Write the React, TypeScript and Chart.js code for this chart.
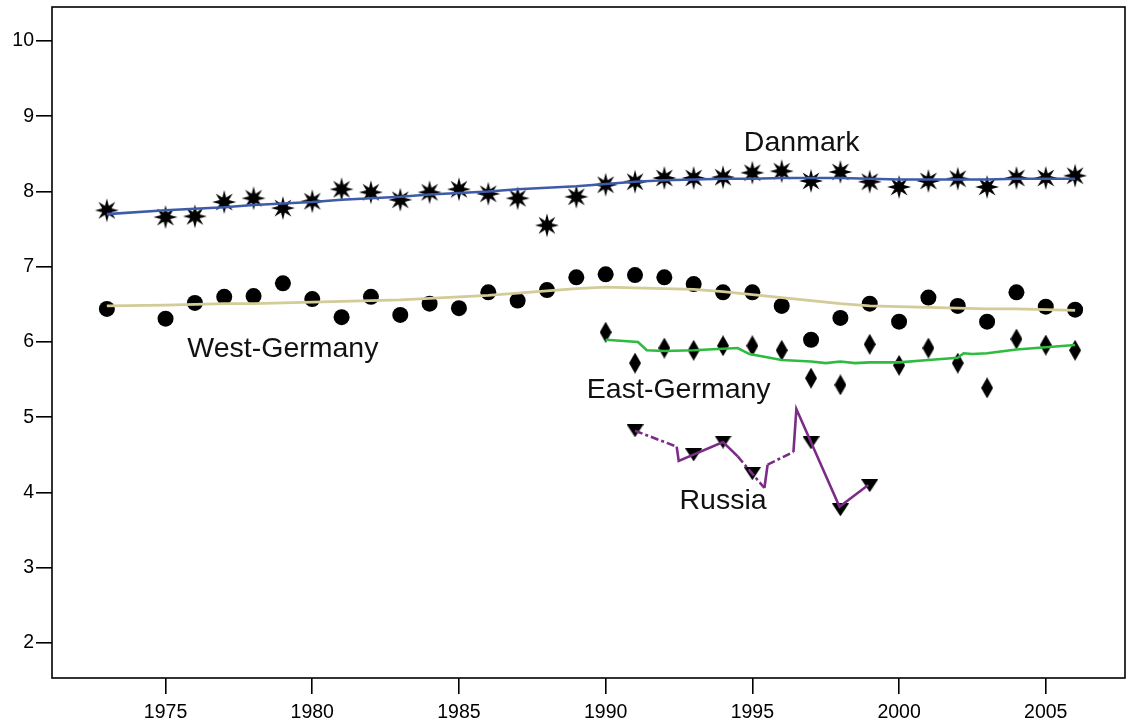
import React, { useEffect, useRef } from "react";
import { Chart, registerables } from "chart.js";

Chart.register(...registerables);

// ---- Data ----
const mainYears = [
  1973, 1975, 1976, 1977, 1978, 1979, 1980, 1981, 1982, 1983, 1984, 1985, 1986, 1987, 1988, 1989,
  1990, 1991, 1992, 1993, 1994, 1995, 1996, 1997, 1998, 1999, 2000, 2001, 2002, 2003, 2004, 2005, 2006,
];
const danmarkValues = [
  7.75, 7.66, 7.67, 7.86, 7.91, 7.78, 7.87, 8.03, 7.99, 7.89, 7.99, 8.03, 7.97, 7.91, 7.55, 7.93,
  8.09, 8.13, 8.18, 8.18, 8.19, 8.25, 8.27, 8.14, 8.26, 8.13, 8.06, 8.14, 8.17, 8.06, 8.18, 8.18, 8.21,
];
const danmarkTrend = [
  7.70, 7.75, 7.77, 7.79, 7.82, 7.84, 7.86, 7.89, 7.91, 7.93, 7.96, 7.98, 8.00, 8.03, 8.05, 8.07,
  8.10, 8.13, 8.15, 8.16, 8.17, 8.17, 8.18, 8.18, 8.18, 8.17, 8.16, 8.16, 8.16, 8.16, 8.17, 8.17, 8.17,
];
const westGermanyValues = [
  6.44, 6.31, 6.52, 6.60, 6.61, 6.78, 6.57, 6.33, 6.60, 6.36, 6.51, 6.45, 6.66, 6.55, 6.69, 6.86,
  6.90, 6.89, 6.86, 6.77, 6.66, 6.66, 6.48, 6.03, 6.32, 6.51, 6.27, 6.59, 6.48, 6.27, 6.66, 6.47, 6.43,
];
const westGermanyTrend = [
  6.48, 6.49, 6.50, 6.51, 6.51, 6.52, 6.53, 6.54, 6.55, 6.56, 6.58, 6.60, 6.62, 6.65, 6.68, 6.71,
  6.73, 6.72, 6.71, 6.70, 6.67, 6.63, 6.59, 6.55, 6.51, 6.48, 6.47, 6.46, 6.45, 6.44, 6.44, 6.43, 6.42,
];
const eastGermanyYears = [
  1990, 1991, 1992, 1993, 1994, 1995, 1996, 1997, 1998, 1999, 2000, 2001, 2002, 2003, 2004, 2005, 2006,
];
const eastGermanyValues = [
  6.13, 5.72, 5.92, 5.89, 5.95, 5.95, 5.89, 5.52, 5.43, 5.97, 5.69, 5.92, 5.72, 5.39, 6.04, 5.96, 5.89,
];
const eastGermanyTrendX = [
  1990, 1991.1, 1991.4, 1992, 1993, 1994, 1994.5, 1994.9, 1996, 1997, 1997.5, 1998, 1998.5, 1999,
  2000, 2001, 2002, 2002.2, 2002.5, 2003, 2004, 2005, 2006,
];
const eastGermanyTrendY = [
  6.03, 6.00, 5.89, 5.88, 5.89, 5.91, 5.92, 5.84, 5.76, 5.74, 5.72, 5.74, 5.72, 5.73,
  5.73, 5.76, 5.79, 5.85, 5.84, 5.85, 5.90, 5.93, 5.96,
];
const russiaYears = [1991, 1993, 1994, 1995, 1997, 1998, 1999];
const russiaValues = [4.82, 4.50, 4.67, 4.25, 4.66, 3.77, 4.09];
const russiaLineX = [1991.0, 1992.42, 1992.49, 1994.0, 1994.5, 1995.41, 1995.52, 1996.4, 1996.5, 1997.97, 1998.95];
const russiaLineY = [4.82, 4.61, 4.42, 4.67, 4.48, 4.06, 4.37, 4.54, 5.11, 3.81, 4.10];
const russiaDashedSegments = [0, 4, 6];

const xTickValues = [1975, 1980, 1985, 1990, 1995, 2000, 2005];
const yTickValues = [2, 3, 4, 5, 6, 7, 8, 9, 10];

const labelTexts = ["Danmark", "West-Germany", "East-Germany", "Russia"];
const labelYears = [1996.68, 1979.0, 1992.49, 1994.0];
const labelValues = [8.68, 5.93, 5.39, 3.91];

const FONT = "'Liberation Sans', Arial, Helvetica, sans-serif";

function pts(xs: number[], ys: number[]) {
  return xs.map((x, i) => ({ x, y: ys[i] }));
}

function makeStar(): HTMLCanvasElement {
  const c = document.createElement("canvas");
  c.width = 26;
  c.height = 26;
  const g = c.getContext("2d")!;
  g.fillStyle = "#000";
  g.beginPath();
  for (let i = 0; i < 16; i++) {
    const r = i % 2 === 0 ? 12 : 5;
    const a = -Math.PI / 2 + (i * Math.PI) / 8;
    const x = 13 + r * Math.cos(a);
    const y = 13 + r * Math.sin(a);
    if (i === 0) g.moveTo(x, y);
    else g.lineTo(x, y);
  }
  g.closePath();
  g.fill();
  return c;
}

function makeDiamond(): HTMLCanvasElement {
  const c = document.createElement("canvas");
  c.width = 12;
  c.height = 21;
  const g = c.getContext("2d")!;
  g.fillStyle = "#000";
  g.beginPath();
  g.moveTo(6, 0);
  g.lineTo(12, 10.5);
  g.lineTo(6, 21);
  g.lineTo(0, 10.5);
  g.closePath();
  g.fill();
  return c;
}

function makeTriangle(): HTMLCanvasElement {
  const c = document.createElement("canvas");
  c.width = 17;
  c.height = 13;
  const g = c.getContext("2d")!;
  g.fillStyle = "#000";
  g.beginPath();
  g.moveTo(0, 0);
  g.lineTo(17, 0);
  g.lineTo(8.5, 13);
  g.closePath();
  g.fill();
  return c;
}

export default function App() {
  const ref = useRef<HTMLCanvasElement>(null);

  useEffect(() => {
    const canvas = ref.current!;
    const star = makeStar();
    const diamond = makeDiamond();
    const tri = makeTriangle();

    const boxPlugin = {
      id: "boxPlugin",
      afterDraw(chart: any) {
        const { ctx, chartArea: a } = chart;
        ctx.save();
        ctx.strokeStyle = "#000";
        ctx.lineWidth = 1.6;
        ctx.strokeRect(a.left, a.top, a.right - a.left, a.bottom - a.top);
        ctx.restore();
      },
    };

    const labelPlugin = {
      id: "labelPlugin",
      afterDatasetsDraw(chart: any) {
        const { ctx } = chart;
        const xs = chart.scales.x;
        const ys = chart.scales.y;
        const size = 28.5;
        ctx.save();
        ctx.font = `${size}px ${FONT}`;
        ctx.fillStyle = "#111";
        ctx.textAlign = "center";
        ctx.textBaseline = "alphabetic";
        labelTexts.forEach((t, i) => {
          const px = xs.getPixelForValue(labelYears[i]);
          const py = ys.getPixelForValue(labelValues[i]) + size * 0.358;
          ctx.fillText(t, px, py);
        });
        ctx.restore();
      },
    };

    const lineBase = {
      showLine: true,
      pointRadius: 0,
      pointHoverRadius: 0,
      borderWidth: 2.6,
      tension: 0,
      fill: false,
      order: 0,
    };
    const markerBase = {
      showLine: false,
      borderWidth: 0,
      order: 1,
    };

    const chart = new Chart(canvas, {
      type: "scatter",
      data: {
        datasets: [
          { ...lineBase, data: pts(mainYears, danmarkTrend), borderColor: "#3E5BA9" } as any,
          { ...lineBase, data: pts(mainYears, westGermanyTrend), borderColor: "#D3CB98" } as any,
          { ...lineBase, data: pts(eastGermanyTrendX, eastGermanyTrendY), borderColor: "#2EBB3F" } as any,
          {
            ...lineBase,
            data: pts(russiaLineX, russiaLineY),
            borderColor: "#7B2C86",
            segment: {
              borderDash: (ctx: any) =>
                russiaDashedSegments.includes(ctx.p0DataIndex) ? [8, 3, 3, 3] : undefined,
            },
          } as any,
          { ...markerBase, data: pts(mainYears, danmarkValues), pointStyle: star, pointRadius: 12, backgroundColor: "#000" } as any,
          { ...markerBase, data: pts(mainYears, westGermanyValues), pointStyle: "circle", pointRadius: 8, backgroundColor: "#000" } as any,
          { ...markerBase, data: pts(eastGermanyYears, eastGermanyValues), pointStyle: diamond, pointRadius: 10, backgroundColor: "#000" } as any,
          { ...markerBase, data: pts(russiaYears, russiaValues), pointStyle: tri, pointRadius: 8, backgroundColor: "#000" } as any,
        ],
      },
      options: {
        responsive: false,
        animation: false,
        events: [],
        layout: { autoPadding: false, padding: { top: 7, right: 1, left: 0, bottom: 0 } },
        plugins: {
          legend: { display: false },
          tooltip: { enabled: false },
        },
        scales: {
          x: {
            type: "linear",
            min: 1971.13,
            max: 2007.7,
            afterBuildTicks: (s: any) => {
              s.ticks = xTickValues.map((v) => ({ value: v }));
            },
            afterFit: (s: any) => {
              s.height = 49;
              s.paddingLeft = 0;
              s.paddingRight = 0;
            },
            ticks: {
              autoSkip: false,
              maxRotation: 0,
              padding: 7,
              color: "#000",
              font: { family: FONT, size: 19.5 },
              callback: (v: any) => String(v),
            },
            grid: {
              drawOnChartArea: false,
              drawTicks: true,
              tickLength: 16,
              tickColor: "#000",
              tickWidth: 1.6,
              color: "#000",
              lineWidth: 1.6,
            },
            border: { display: false },
          },
          y: {
            type: "linear",
            min: 1.535,
            max: 10.452,
            afterBuildTicks: (s: any) => {
              s.ticks = yTickValues.map((v) => ({ value: v }));
            },
            afterFit: (s: any) => {
              s.width = 52;
              s.paddingTop = 0;
              s.paddingBottom = 0;
            },
            ticks: {
              autoSkip: false,
              padding: 2,
              color: "#000",
              font: { family: FONT, size: 19.5 },
              callback: (v: any) => String(v),
            },
            grid: {
              drawOnChartArea: false,
              drawTicks: true,
              tickLength: 16,
              tickColor: "#000",
              tickWidth: 1.6,
              color: "#000",
              lineWidth: 1.6,
            },
            border: { display: false },
          },
        },
      },
      plugins: [boxPlugin, labelPlugin],
    });

    return () => chart.destroy();
  }, []);

  return (
    <div style={{ position: "fixed", left: 0, top: 0, width: 1126, height: 727, background: "#fff" }}>
      <canvas ref={ref} width={1126} height={727} style={{ display: "block", width: 1126, height: 727 }} />
    </div>
  );
}
